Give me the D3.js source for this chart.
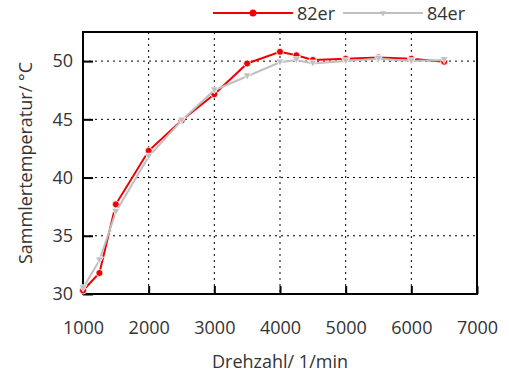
<!DOCTYPE html>
<html>
<head>
<meta charset="utf-8">
<script src="https://cdn.jsdelivr.net/npm/d3@7"></script>
<style>
	body { margin: 0; background: #fff; }
	svg text { font-family: "Open Sans", sans-serif; fill: #333; }
</style>
</head>
<body>
<div id="chart"></div>
<script>
// drehzahl in 1/min
var rpm = [1000, 1250, 1500, 2000, 2500, 3000, 3500, 4000, 4250, 4500, 5000, 5500, 6000, 6500]
// sammlertemperatur in °C
var temp82 = [30.3, 31.8, 37.7, 42.3, 44.9, 47.15, 49.8, 50.8, 50.5, 50.1, 50.2, 50.3, 50.2, 49.95]
var temp84 = [30.5, 32.9, 37.05, 41.8, 44.9, 47.5, 48.7, 49.9, 50.1, 49.8, 50.0, 50.2, 50.0, 50.1]
var xTicks = [1000, 2000, 3000, 4000, 5000, 6000, 7000]
var yTicks = [30, 35, 40, 45, 50]
var seriesNames = ["82er", "84er"]

var width = 509, height = 376
var margin = {top: 32, right: 32, bottom: 82, left: 83}
var w = width - margin.left - margin.right
var h = height - margin.top - margin.bottom

var svg = d3.select("#chart").append("svg")
	.attr("width", width)
	.attr("height", height)

var g = svg.append("g")
	.attr("transform", "translate(" + margin.left + "," + margin.top + ")")

var xScale = d3.scaleLinear().domain([1000, 7000]).range([0, w])
var yScale = d3.scaleLinear().domain([30, 52.5]).range([h, 0])

// dotted grid
g.append("g")
	.selectAll("line")
	.data(xTicks.slice(1, -1))
	.enter()
	.append("line")
	.attr("x1", d => xScale(d)).attr("x2", d => xScale(d))
	.attr("y1", 0).attr("y2", h)
	.attr("stroke", "#000").attr("stroke-width", 1).attr("stroke-dasharray", "2,4")

g.append("g")
	.selectAll("line")
	.data(yTicks.slice(1))
	.enter()
	.append("line")
	.attr("x1", 0).attr("x2", w)
	.attr("y1", d => yScale(d)).attr("y2", d => yScale(d))
	.attr("stroke", "#000").attr("stroke-width", 1).attr("stroke-dasharray", "2,4")

// axes, ticks pointing inward
var xAxis = g.append("g")
	.attr("transform", "translate(0," + h + ")")
	.call(d3.axisBottom(xScale).tickValues(xTicks).tickSize(-8).tickPadding(27).tickFormat(d3.format("d")))
var yAxis = g.append("g")
	.call(d3.axisLeft(yScale).tickValues(yTicks).tickSize(-10).tickPadding(10))

;[xAxis, yAxis].forEach(function(ax){
	ax.select(".domain").remove()
	ax.selectAll("line").attr("stroke", "#000").attr("stroke-width", 2)
	ax.selectAll("text").attr("font-size", 18).attr("fill", "#333")
})

// frame
g.append("rect")
	.attr("x", 0).attr("y", 0).attr("width", w).attr("height", h)
	.attr("fill", "none").attr("stroke", "#000").attr("stroke-width", 2)

var line = d3.line()
	.x(d => xScale(d[0]))
	.y(d => yScale(d[1]))

var data82 = rpm.map((r, i) => [r, temp82[i]])
var data84 = rpm.map((r, i) => [r, temp84[i]])

var red = "#ee0000", grey = "#c0c0c0"
var tri = d3.symbol().type(d3.symbolTriangle).size(28)

g.append("path").datum(data82)
	.attr("d", line).attr("fill", "none").attr("stroke", red).attr("stroke-width", 2)
g.append("g").selectAll("circle").data(data82).enter().append("circle")
	.attr("cx", d => xScale(d[0])).attr("cy", d => yScale(d[1])).attr("r", 3.5)
	.attr("fill", red).attr("stroke", "#fff").attr("stroke-width", 0.8)

g.append("path").datum(data84)
	.attr("d", line).attr("fill", "none").attr("stroke", grey).attr("stroke-width", 2)
g.append("g").selectAll("path").data(data84).enter().append("path")
	.attr("d", tri)
	.attr("transform", d => "translate(" + xScale(d[0]) + "," + (yScale(d[1]) - 1) + ") rotate(180)")
	.attr("fill", grey).attr("stroke", "#fff").attr("stroke-width", 0.8)

// axis titles
svg.append("text")
	.attr("x", 280).attr("y", 368)
	.attr("text-anchor", "middle").attr("font-size", 18)
	.text("Drehzahl/ 1/min")
svg.append("text")
	.attr("transform", "translate(32,163) rotate(-90)")
	.attr("text-anchor", "middle").attr("font-size", 18)
	.text("Sammlertemperatur/ °C")

// legend
var legend = svg.append("g").attr("transform", "translate(213,13)")
var legendColors = [red, grey]
seriesNames.forEach(function(name, i){
	var lg = legend.append("g").attr("transform", "translate(" + (i * 130) + ",0)")
	lg.append("line").attr("x1", 0).attr("x2", 80).attr("y1", 0).attr("y2", 0)
		.attr("stroke", legendColors[i]).attr("stroke-width", 2)
	if(i == 0){
		lg.append("circle").attr("cx", 40).attr("cy", 0).attr("r", 3.5).attr("fill", red)
	}else{
		lg.append("path").attr("d", d3.symbol().type(d3.symbolTriangle).size(16))
			.attr("transform", "translate(40,0) rotate(180)").attr("fill", grey)
	}
	lg.append("text").attr("x", 84).attr("y", 6.5).attr("font-size", 18).text(name)
})
</script>
</body>
</html>
